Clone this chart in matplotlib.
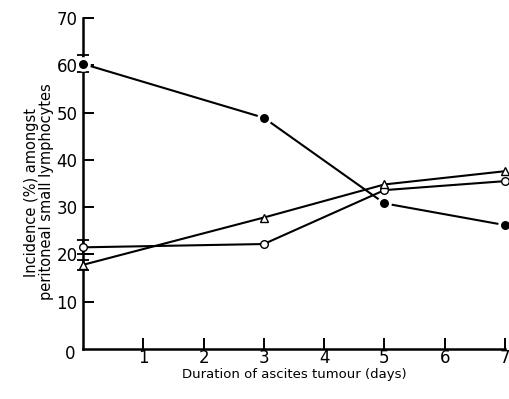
import matplotlib
matplotlib.use("Agg")
import matplotlib.pyplot as plt

# Incidence (%) of small lymphocyte subsets in the peritoneal cavity
days = [0, 3, 5, 7]
filled_circle = [60.3, 48.9, 30.8, 26.2]
open_circle = [21.5, 22.2, 33.6, 35.5]
triangle = [17.8, 27.8, 34.8, 37.6]

# spread at day 0
err_filled = 1.8
err_open = 1.5
err_triangle = 1.0

x_ticks = [1, 2, 3, 4, 5, 6, 7]
y_ticks = [10, 20, 30, 40, 50, 60, 70]

plt.rcParams['font.family'] = ['DejaVu Sans']

fig = plt.figure(figsize=(5.09, 3.99), dpi=100)
ax = fig.add_axes([83 / 509, 50 / 399, 422 / 509, 331 / 399])

ax.set_xlim(0, 7)
ax.set_ylim(0, 70)

lw = 1.5
ax.plot(days, filled_circle, color='black', lw=lw, marker='o', ms=8.5,
        mfc='black', mec='white', mew=2.0, clip_on=False, zorder=4)
ax.plot(days, open_circle, color='black', lw=lw, marker='o', ms=5.5,
        mfc='white', mec='black', mew=1.0, clip_on=False, zorder=4)
ax.plot(days, triangle, color='black', lw=lw, marker='^', ms=5.5,
        mfc='white', mec='black', mew=1.0, clip_on=False, zorder=4)

for y, e in [(filled_circle[0], err_filled), (open_circle[0], err_open),
             (triangle[0], err_triangle)]:
    ax.errorbar([0], [y], yerr=[e], fmt='none', ecolor='black', elinewidth=1.3,
                capsize=4, capthick=1.3, clip_on=False, zorder=3)

for s in ['top', 'right']:
    ax.spines[s].set_visible(False)
for s in ['left', 'bottom']:
    ax.spines[s].set_linewidth(1.8)

ax.set_xticks(x_ticks)
ax.set_yticks(y_ticks)
ax.tick_params(axis='both', direction='in', length=8, width=1.4,
               labelsize=12)
ax.tick_params(axis='x', pad=0)
ax.tick_params(axis='y', pad=4)

ax.text(-0.22, -1.0, '0', ha='center', va='center', fontsize=12,
        transform=ax.transData)

ax.set_xlabel('Duration of ascites tumour (days)', fontsize=9.5, labelpad=1)
ax.set_ylabel('Incidence (%) amongst\nperitoneal small lymphocytes',
              fontsize=10.5, linespacing=1.0)
ax.yaxis.set_label_coords(-0.068, 0.474)

fig.savefig('out.png', dpi=100)
